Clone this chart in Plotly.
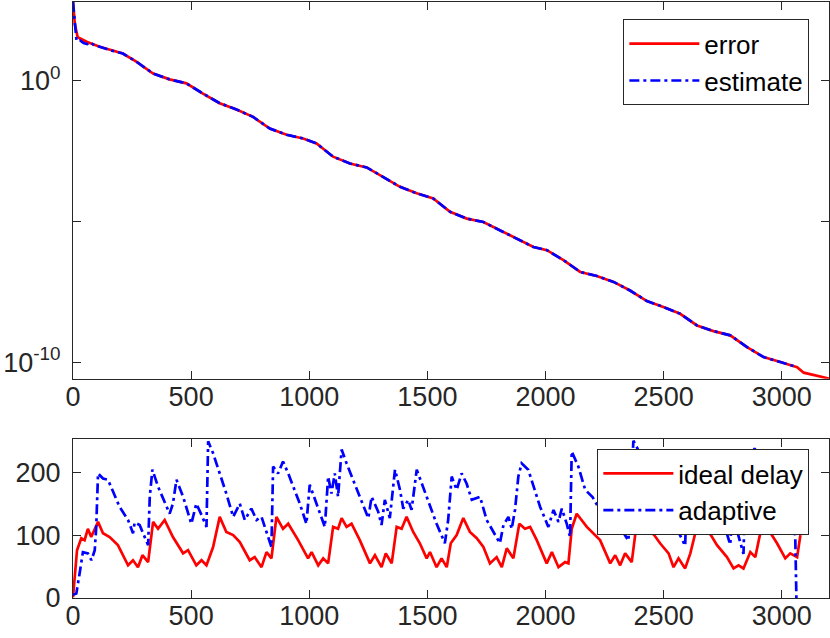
import plotly.graph_objects as go
from plotly.subplots import make_subplots

# top panel: error and its estimate (log scale)
err_x = [0, 8, 20, 60, 113, 169, 211, 268, 339, 409, 480, 550, 621, 692, 762,
         833, 904, 974, 1031, 1101, 1172, 1243, 1313, 1384, 1455, 1525, 1596,
         1667, 1737, 1808, 1878, 1949, 2006, 2076, 2147, 2217, 2288, 2358, 2429,
         2499, 2570, 2641, 2711, 2782, 2853, 2923, 2994, 3065, 3093, 3135, 3200]
err_y = [6.3e2, 1.0e2, 3.5e1, 2.4e1, 1.62e1, 1.15e1, 9.3, 4.8, 1.8, 1.12, 0.81,
         0.35, 0.16, 9.5e-2, 5.2e-2, 2.0e-2, 1.2e-2, 8.9e-3, 5.9e-3, 2.0e-3,
         1.15e-3, 8.3e-4, 3.8e-4, 1.7e-4, 1.0e-4, 6.5e-5, 2.2e-5, 1.26e-5,
         9.5e-6, 4.9e-6, 2.45e-6, 1.23e-6, 9.5e-7, 4.2e-7, 1.6e-7, 1.15e-7,
         7.1e-8, 3.5e-8, 1.48e-8, 9.1e-9, 5.2e-9, 2.0e-9, 1.26e-9, 8.9e-10,
         3.4e-10, 1.5e-10, 1.0e-10, 6.6e-11, 4.2e-11, 3.4e-11, 2.6e-11]

# the estimate differs only at the very start, then follows the error up to ~3065
est_x = [0, 8, 15, 30, 45, 60, 75, 90] + err_x[4:48]
est_y = [6.3e2, 9.0e1, 2.6e1, 2.7e1, 2.2e1, 2.0e1, 2.3e1, 1.8e1] + err_y[4:48]

# bottom panel: delays
ideal_x = [0, 17, 35, 49, 63, 77, 106, 127, 155, 190, 233, 254, 275, 294, 318,
           339, 360, 388, 423, 466, 487, 522, 544, 565, 593, 621, 649, 678, 706,
           748, 769, 798, 819, 840, 861, 889, 911, 953, 995, 1010, 1038, 1059,
           1080, 1101, 1122, 1137, 1158, 1179, 1214, 1257, 1278, 1306, 1324,
           1349, 1370, 1391, 1412, 1440, 1468, 1497, 1511, 1539, 1560, 1582,
           1599, 1624, 1652, 1680, 1709, 1737, 1765, 1793, 1815, 1836, 1864,
           1889, 1913, 1935, 1963, 2005, 2027, 2055, 2083, 2097, 2111, 2132,
           2175, 2231, 2274, 2295, 2316, 2337, 2365, 2384, 2400, 2430, 2460,
           2485, 2521, 2542, 2563, 2591, 2613, 2634, 2650, 2670, 2700, 2726,
           2768, 2796, 2817, 2838, 2867, 2888, 2909, 2925, 2950, 2980, 3015,
           3036, 3065, 3079]
ideal_y = [1, 76, 95, 92, 110, 97, 121, 103, 97, 84, 52, 60, 49, 68, 57,
           121, 110, 124, 97, 71, 76, 52, 60, 52, 81, 129, 105, 100, 89,
           60, 65, 49, 73, 63, 129, 110, 118, 92, 63, 73, 52, 63,
           55, 113, 110, 127, 113, 118, 92, 55, 68, 49, 71,
           55, 113, 110, 129, 105, 87, 63, 73, 49, 63, 49,
           87, 100, 127, 105, 95, 81, 55, 65, 49, 79, 63,
           118, 110, 113, 92, 55, 73, 49, 57, 55, 110, 134,
           113, 92, 55, 68, 52, 71, 57, 113, 128, 110, 100,
           87, 71, 49, 63, 47, 71, 103, 118, 110, 100, 84,
           65, 47, 52, 47, 73, 65, 103, 118, 105, 87, 63,
           71, 65, 100]

adapt_x = [0, 14, 28, 42, 63, 78, 92, 98, 106, 127, 148, 197, 233, 254, 261,
           282, 318, 325, 336, 360, 409, 423, 438, 466, 501, 522, 544, 565, 572,
           593, 649, 678, 706, 727, 755, 777, 798, 840, 847, 868, 889, 911, 960,
           988, 1002, 1031, 1066, 1080, 1094, 1108, 1122, 1137, 1158, 1214, 1250,
           1264, 1292, 1306, 1320, 1341, 1363, 1384, 1398, 1419, 1433, 1455,
           1497, 1539, 1574, 1588, 1603, 1624, 1645, 1666, 1688, 1723, 1751,
           1779, 1807, 1822, 1843, 1857, 1871, 1885, 1899, 1927, 1977, 2012,
           2034, 2055, 2069, 2090, 2104, 2111, 2139, 2168, 2200, 2230, 2260,
           2290, 2320, 2351, 2372, 2400, 2440, 2480, 2520, 2550, 2591, 2605,
           2640, 2680, 2720, 2750, 2782, 2790, 2838, 2848, 2885, 2920, 2960,
           3000, 3040, 3057, 3062]
adapt_y = [5, 7, 39, 73, 71, 60, 76, 110, 198, 190, 188, 145, 124, 103, 120,
           116, 84, 161, 204, 177, 134, 150, 188, 161, 118, 150, 132, 113, 249,
           230, 166, 129, 150, 124, 142, 124, 129, 81, 209, 198, 217, 198, 150,
           118, 180, 150, 113, 193, 166, 198, 161, 236, 214, 161, 127,
           161, 137, 116, 156, 127, 204, 172, 142, 156, 140, 204,
           161, 118, 87, 124, 193, 172, 198, 182, 156, 161, 124,
           105, 87, 116, 129, 110, 140, 193, 214, 204, 145, 113,
           140, 121, 142, 118, 97, 233, 209, 172, 160, 140, 150,
           125, 110, 91, 250, 230, 200, 170, 140, 115, 83, 238,
           215, 190, 160, 125, 85, 135, 70, 205, 238, 210, 170,
           140, 110, 100, 0]

x_ticks = [0, 500, 1000, 1500, 2000, 2500, 3000]

FONT = "Liberation Sans, Arial, sans-serif"
AXC = "#262626"
DASHDOT = "10px,4px,3px,4px"

fig = make_subplots(rows=2, cols=1, shared_xaxes=False)

fig.add_trace(go.Scatter(x=err_x, y=err_y, mode="lines", name="error",
                         line=dict(color="#ff0000", width=2.7), legend="legend"),
              row=1, col=1)
fig.add_trace(go.Scatter(x=est_x, y=est_y, mode="lines", name="estimate",
                         line=dict(color="#0000ff", width=2.7, dash=DASHDOT),
                         legend="legend"),
              row=1, col=1)
fig.add_trace(go.Scatter(x=ideal_x, y=ideal_y, mode="lines", name="ideal delay",
                         line=dict(color="#ff0000", width=2.7), legend="legend2"),
              row=2, col=1)
fig.add_trace(go.Scatter(x=adapt_x, y=adapt_y, mode="lines", name="adaptive",
                         line=dict(color="#0000ff", width=2.7, dash=DASHDOT),
                         legend="legend2"),
              row=2, col=1)

axis_style = dict(showline=True, linecolor=AXC, linewidth=1, mirror="ticks",
                  ticks="inside", ticklen=8, tickcolor=AXC, showgrid=False,
                  zeroline=False, automargin=False,
                  tickfont=dict(family=FONT, size=27, color=AXC))

fig.update_xaxes(range=[0, 3200], tickvals=x_ticks, domain=[0, 1],
                 ticklabelstandoff=-6, **axis_style)
fig.update_yaxes(ticklabelstandoff=6, **axis_style)
fig.update_yaxes(type="log", range=[-10.59, 2.8], tickvals=[1e-10, 1],
                 ticktext=["10<sup>-10</sup>", "10<sup>0</sup>"],
                 minor=dict(tickvals=[1e-5], ticks="inside", ticklen=8,
                            tickcolor=AXC, showgrid=False),
                 domain=[0.368, 1.0], row=1, col=1)
fig.update_yaxes(range=[0, 252], tickvals=[0, 100, 200], domain=[0, 0.266],
                 row=2, col=1)

legend_style = dict(bgcolor="white", bordercolor=AXC, borderwidth=1,
                    font=dict(family=FONT, size=26, color="black"),
                    xanchor="right", yanchor="top", tracegroupgap=0,
                    itemwidth=70)

fig.update_layout(
    width=830, height=638,
    margin=dict(l=73, r=1, t=2, b=40),
    paper_bgcolor="white", plot_bgcolor="white",
    showlegend=True,
    legend=dict(x=0.974, y=0.971, **legend_style),
    legend2=dict(x=0.974, y=0.25, **legend_style),
)

# page body has a default 8px margin, drop it so the figure fills the window
fig.write_html("out.html", config={"displayModeBar": False},
               post_script="document.body.style.margin='0';")
